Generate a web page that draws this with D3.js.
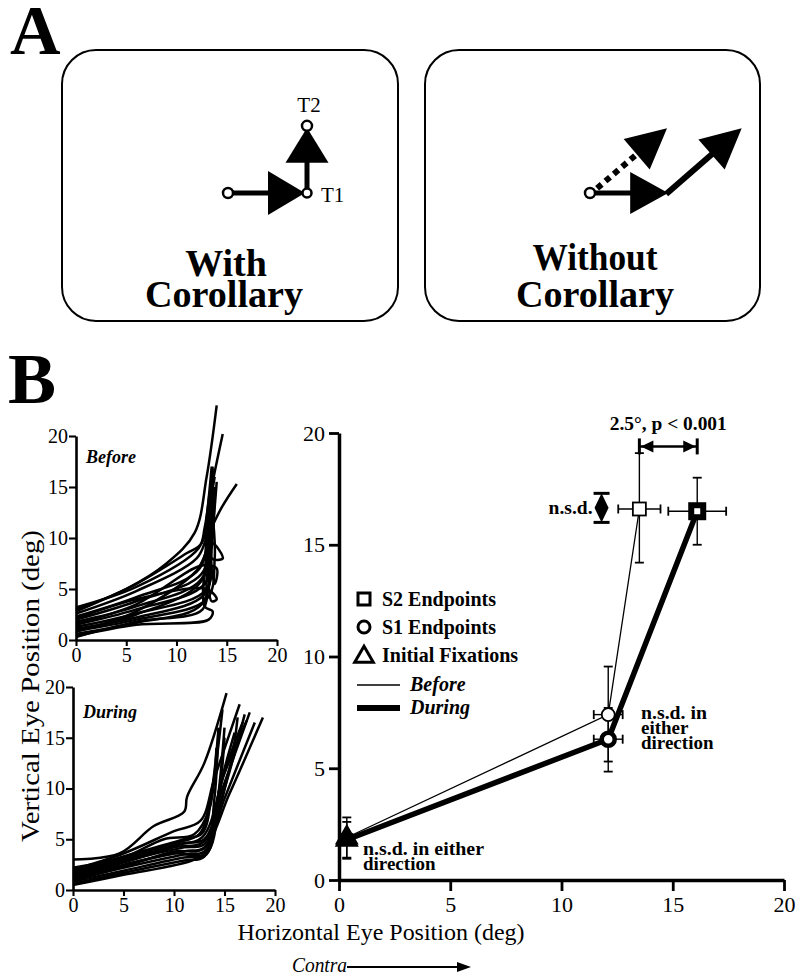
<!DOCTYPE html>
<html><head><meta charset="utf-8">
<script src="https://cdn.jsdelivr.net/npm/d3@7"></script>
<style>body{margin:0;background:#fff}svg{display:block}</style>
</head><body>
<svg id="c" width="798" height="976"></svg>
<script>
// ---------------- DATA ----------------
const ticks = [0, 5, 10, 15, 20];
const pointNames = ["Initial Fixations", "S1 Endpoints", "S2 Endpoints"];
// Before
const beforeX = [0.35, 12.1, 13.5];
const beforeY = [1.9, 7.4, 16.6];
const beforeXErr = [0.25, 0.65, 0.95];
const beforeYLo = [0.95, 5.3, 14.2];
const beforeYHi = [2.8, 9.55, 19.1];
// During
const duringX = [0.35, 12.1, 16.1];
const duringY = [1.8, 6.3, 16.5];
const duringXErr = [0.2, 0.65, 1.3];
const duringYLo = [1.0, 4.85, 15.0];
const duringYHi = [2.6, 7.7, 18.0];
// annotations (data units)
const nsdX = 11.8, nsdTop = 17.3, nsdBottom = 16.0;
const diffY = 19.4;
// individual traces (Before)
const beforeTraces = [
 [[0,3.0],[5,5],[9,7.5],[11.8,10.5],[13,16],[14,23]],
 [[0,2.8],[6,5.5],[11,8.5],[12.5,9.5],[13.5,15],[14.6,20.2]],
 [[0,2.6],[6,4.8],[12,8],[13,10],[14.5,13],[16,15.3]],
 [[0,2.3],[6,4.2],[12.3,7],[13,12],[13.5,17]],
 [[0,2.0],[6,3.8],[12.5,6.5],[13.3,11],[13.6,16.8]],
 [[0,1.8],[6,3.3],[12.5,6],[13,11],[13.8,16]],
 [[0,1.5],[6,3],[12.8,5.5],[13.5,10],[14,15.5]],
 [[0,1.3],[6,2.6],[13,5],[13.2,10],[13.3,14.5]],
 [[0,1.1],[6,2.2],[12.8,4.5],[13.5,9],[13.8,14]],
 [[0,0.9],[6,2],[13,4],[13.8,8],[13.5,13]],
 [[0,0.6],[6,1.7],[12.5,3.5],[13.4,9],[13.2,12]],
 [[0,0.4],[6,1.5],[13.2,2.0],[13.6,2.8],[12.8,3.3],[13.2,10],[13.6,13]],
 [[0,1.6],[6,3.5],[12.5,7.3],[14,7],[13.8,5.5],[13.3,9],[13.5,14]],
 [[0,2.1],[6,4],[13,5],[14,4],[13.5,3.8],[13.2,8],[13.8,15]],
 [[0,0.8],[6,2.8],[12,6.8],[13.5,9.5],[14.6,8],[13.5,8],[13.8,12]],
 [[0,1.0],[6,2.5],[12.5,5.8],[13.2,11.5],[13.6,17]],
 [[0,3.2],[6,5.2],[12.2,9],[12.8,11],[13.3,14.5]],
 [[0,0.3],[6,1.8],[12.6,3],[13,6],[13.4,12]]
];
// individual traces (During)
const duringTraces = [
 [[0,3.0],[4.6,3.6],[8,6.3],[11,7.7],[11.3,9.2],[13,12.5],[15.2,19.4]],
 [[0,2.0],[5,3.6],[10,5.8],[12.6,6.8],[14,11],[16.5,18.3]],
 [[0,1.8],[5,3.3],[11,5],[12.8,5.6],[13.8,10],[14.8,17.8]],
 [[0,1.6],[5,3],[11,4.6],[13,5],[14.8,10],[17.5,17.5]],
 [[0,1.4],[5,2.8],[11,4.2],[13,4.5],[15,10],[17,17.3]],
 [[0,1.2],[5,2.5],[11,3.8],[13,4.2],[15.5,9.5],[18.8,17]],
 [[0,1.0],[5,2.2],[11,3.5],[13,3.8],[15,9],[18,16.5]],
 [[0,0.8],[5,1.9],[11,3.2],[13.2,3.5],[14.2,8],[15,16]],
 [[0,0.6],[5,1.7],[11,2.9],[13,3.3],[14,9],[14.4,16]],
 [[0,0.5],[5,1.5],[12,3],[13.3,4],[14.5,10],[16,15.5]],
 [[0,1.7],[5,3.2],[10,4.6],[12.5,5.5],[13.6,9],[14.4,15.8]],
 [[0,1.3],[5,2.7],[10,4.2],[13,4.8],[15.5,12],[16.3,17]],
 [[0,0.9],[5,2.3],[10,3.8],[13,4.1],[14.5,10],[15,15]],
 [[0,1.5],[5,2.9],[10,4.4],[12.8,5.2],[15,11.5],[17.2,16.7]],
 [[0,2.2],[5,3.2],[9,5],[12,5.5],[13.5,8],[14.2,14]],
 [[0,1.1],[5,2.4],[10,3.6],[13.2,3.6],[14.8,11],[16.8,16.5]]
];
// Panel A schematic (diagram units)
const withPoints = [[0,0],[10,0],[10,8.5]];          // fixation, T1, T2
const withoutSaccade = [[0,0],[9.9,0],[19.2,8.2]];
const withoutExpected = [[0.9,0.6],[9.75,8.2]];

// ---------------- DRAWING ----------------
const svg = d3.select("#c");
const SERIF = "'Liberation Serif','Times New Roman',serif";
svg.append("rect").attr("width",798).attr("height",976).attr("fill","#fff");

function txt(x,y,s,size,opts={}){
  const t = svg.append("text").attr("x",x).attr("y",y).text(s)
    .attr("font-family",SERIF).attr("font-size",size)
    .attr("font-weight",opts.bold?"bold":"normal")
    .attr("font-style",opts.italic?"italic":"normal")
    .attr("text-anchor",opts.anchor||"start").attr("fill","#000");
  if(opts.len) t.attr("textLength",opts.len).attr("lengthAdjust","spacingAndGlyphs");
  if(opts.rotate) t.attr("transform",`rotate(${opts.rotate},${x},${y})`);
  return t;
}
function arrow(g,x1,y1,x2,y2,len,hw,sw,dash){
  const dx=x2-x1, dy=y2-y1, L=Math.hypot(dx,dy), ux=dx/L, uy=dy/L;
  const bx=x2-ux*len, by=y2-uy*len;
  const ln = g.append("line").attr("x1",x1).attr("y1",y1).attr("x2",bx+ux*2).attr("y2",by+uy*2)
    .attr("stroke","#000").attr("stroke-width",sw);
  if(dash) ln.attr("stroke-dasharray",dash);
  g.append("path").attr("d",`M${x2},${y2}L${bx-uy*hw},${by+ux*hw}L${bx+uy*hw},${by-ux*hw}Z`).attr("fill","#000");
}

// ----- Panel A -----
txt(10,54,"A",70,{bold:true});
const gA = svg.append("g");
gA.append("rect").attr("x",62).attr("y",50).attr("width",336).attr("height",271).attr("rx",34)
  .attr("fill","none").attr("stroke","#000").attr("stroke-width",2);
gA.append("rect").attr("x",425).attr("y",50).attr("width",335).attr("height",271).attr("rx",34)
  .attr("fill","none").attr("stroke","#000").attr("stroke-width",2);

const unit = 7.9;
const axL = d3.scaleLinear().domain([0,1]).range([228,228+unit]);
const ayA = d3.scaleLinear().domain([0,1]).range([193,193-unit]);
const axR = d3.scaleLinear().domain([0,1]).range([590,590+unit]);

// With corollary
const P = withPoints.map(p=>[axL(p[0]),ayA(p[1])]);
arrow(gA,P[0][0],P[0][1],P[1][0]-2,P[1][1],37,22,5);
arrow(gA,P[1][0],P[1][1],P[2][0],P[2][1]+2,35,21.5,5);
[[P[0],5],[P[1],4.5],[P[2],5]].forEach(([p,r])=>{
  gA.append("circle").attr("cx",p[0]).attr("cy",p[1]).attr("r",r).attr("fill","#fff").attr("stroke","#000").attr("stroke-width",2.5);
});
txt(P[2][0]+2,P[2][1]-14,"T2",21,{anchor:"middle"});
txt(P[1][0]+14,P[1][1]+9,"T1",21);
txt(226,276,"With",38,{bold:true,anchor:"middle"});
txt(224,307,"Corollary",38,{bold:true,anchor:"middle",len:158});

// Without corollary
const Q = withoutSaccade.map(p=>[axR(p[0]),ayA(p[1])]);
const E = withoutExpected.map(p=>[axR(p[0]),ayA(p[1])]);
arrow(gA,E[0][0],E[0][1],E[1][0],E[1][1],40,20,6,"6,5");
arrow(gA,Q[0][0],Q[0][1],Q[1][0],Q[1][1],38,21,5);
arrow(gA,Q[1][0]-2,Q[1][1]+1,Q[2][0],Q[2][1],40,20,6);
gA.append("circle").attr("cx",Q[0][0]).attr("cy",Q[0][1]).attr("r",5).attr("fill","#fff").attr("stroke","#000").attr("stroke-width",2.5);
txt(595,270,"Without",38,{bold:true,anchor:"middle",len:125});
txt(595,307,"Corollary",38,{bold:true,anchor:"middle",len:158});

// ----- Panel B -----
txt(8,403,"B",72,{bold:true});

function styleAxis(g,sw,fs){
  g.select(".domain").attr("stroke-width",sw).attr("stroke","#000");
  g.selectAll(".tick line").attr("stroke-width",sw*0.8).attr("stroke","#000");
  g.selectAll(".tick text").attr("font-family",SERIF).attr("font-size",fs).attr("fill","#000");
}

// small panels
function smallPanel(traces,xr,yr,label,ly){
  const x = d3.scaleLinear().domain([0,20]).range(xr);
  const y = d3.scaleLinear().domain([0,20]).range(yr);
  const g = svg.append("g");
  const line = d3.line().x(d=>x(d[0])).y(d=>y(d[1])).curve(d3.curveCatmullRom.alpha(0.5));
  g.selectAll("path.tr").data(traces).join("path").attr("class","tr").attr("d",line)
    .attr("fill","none").attr("stroke","#000").attr("stroke-width",2.5).attr("stroke-linejoin","round");
  const ya = g.append("g").attr("transform",`translate(${xr[0]},0)`)
    .call(d3.axisLeft(y).tickValues(ticks).tickSize(7).tickSizeOuter(0).tickPadding(1));
  styleAxis(ya,2.6,20);
  const xa = g.append("g").attr("transform",`translate(0,${yr[0]})`)
    .call(d3.axisBottom(x).tickValues(ticks).tickSize(6).tickSizeOuter(0).tickPadding(2));
  styleAxis(xa,2.6,20);
  txt(xr[0]+10,ly,label,18,{bold:true,italic:true});
}
smallPanel(beforeTraces,[76,277],[640,436],"Before",463);
smallPanel(duringTraces,[73,275],[890,687],"During",718);

txt(39,686,"Vertical Eye Position (deg)",25,{anchor:"middle",rotate:-90,len:312});

// main panel
const x = d3.scaleLinear().domain([0,20]).range([339,784]);
const y = d3.scaleLinear().domain([0,20]).range([880,433]);
const gM = svg.append("g");
const ya = gM.append("g").attr("transform",`translate(339,0)`)
  .call(d3.axisLeft(y).tickValues(ticks).tickSize(10).tickSizeOuter(0).tickPadding(4));
styleAxis(ya,3.5,22);
const xa = gM.append("g").attr("transform",`translate(0,880)`)
  .call(d3.axisBottom(x).tickValues(ticks).tickSize(11).tickSizeOuter(0).tickPadding(5));
styleAxis(xa,3.5,22);

txt(381,940,"Horizontal Eye Position (deg)",24,{anchor:"middle",len:287});
txt(292,972,"Contra",20,{italic:true,len:55});
arrow(svg,347,967,471,967,14,5,2);

const beforeData = beforeX.map((v,i)=>({x:v,y:beforeY[i],xe:beforeXErr[i],lo:beforeYLo[i],hi:beforeYHi[i]}));
const duringData = duringX.map((v,i)=>({x:v,y:duringY[i],xe:duringXErr[i],lo:duringYLo[i],hi:duringYHi[i]}));
const mline = d3.line().x(d=>x(d.x)).y(d=>y(d.y));
gM.append("path").attr("d",mline(beforeData)).attr("fill","none").attr("stroke","#000").attr("stroke-width",1.3);
gM.append("path").attr("d",mline(duringData)).attr("fill","none").attr("stroke","#000").attr("stroke-width",5.5).attr("stroke-linejoin","round");

function errBars(data,sw){
  data.forEach(d=>{
    const cx=x(d.x), cy=y(d.y), c=4.5;
    gM.append("line").attr("x1",cx).attr("x2",cx).attr("y1",y(d.lo)).attr("y2",y(d.hi)).attr("stroke","#000").attr("stroke-width",sw);
    [d.lo,d.hi].forEach(v=>gM.append("line").attr("x1",cx-c).attr("x2",cx+c).attr("y1",y(v)).attr("y2",y(v)).attr("stroke","#000").attr("stroke-width",1.8));
    gM.append("line").attr("x1",x(d.x-d.xe)).attr("x2",x(d.x+d.xe)).attr("y1",cy).attr("y2",cy).attr("stroke","#000").attr("stroke-width",sw);
    [d.x-d.xe,d.x+d.xe].forEach(v=>gM.append("line").attr("x1",x(v)).attr("x2",x(v)).attr("y1",cy-c).attr("y2",cy+c).attr("stroke","#000").attr("stroke-width",1.8));
  });
}
errBars(beforeData,1.4);
errBars(duringData,1.4);

// markers
function triangle(g,cx,cy,size,fill,sw){
  g.append("path").attr("d",d3.symbol(d3.symbolTriangle,size)()).attr("transform",`translate(${cx},${cy})`)
    .attr("fill",fill).attr("stroke","#000").attr("stroke-width",sw).attr("stroke-linejoin","miter");
}
triangle(gM,x(beforeData[0].x),y(beforeData[0].y),180,"#fff",2);
gM.append("circle").attr("cx",x(beforeData[1].x)).attr("cy",y(beforeData[1].y)).attr("r",6.5).attr("fill","#fff").attr("stroke","#000").attr("stroke-width",1.8);
gM.append("rect").attr("x",x(beforeData[2].x)-6.5).attr("y",y(beforeData[2].y)-6.5).attr("width",13).attr("height",13).attr("fill","#fff").attr("stroke","#000").attr("stroke-width",1.8);
triangle(gM,x(duringData[0].x),y(duringData[0].y),200,"#000",1.5);
gM.append("circle").attr("cx",x(duringData[1].x)).attr("cy",y(duringData[1].y)).attr("r",6.5).attr("fill","#fff").attr("stroke","#000").attr("stroke-width",4.5);
gM.append("rect").attr("x",x(duringData[2].x)-6).attr("y",y(duringData[2].y)-6).attr("width",12).attr("height",12).attr("fill","#fff").attr("stroke","#000").attr("stroke-width",6);

// n.s.d. double arrow
{
  const cx=x(nsdX), t=y(nsdTop), b=y(nsdBottom), m=(t+b)/2, hw=7;
  [t,b].forEach(v=>gM.append("line").attr("x1",cx-8).attr("x2",cx+8).attr("y1",v).attr("y2",v).attr("stroke","#000").attr("stroke-width",3));
  gM.append("path").attr("d",`M${cx},${t}L${cx-hw},${m}L${cx},${b}L${cx+hw},${m}Z`).attr("fill","#000");
  txt(cx-9,m+6,"n.s.d.",19,{bold:true,anchor:"end",len:44});
}
// 2.5 deg difference arrow
{
  const x1=x(beforeX[2]), x2=x(duringX[2]), yy=y(diffY), h=8;
  [x1,x2].forEach(v=>gM.append("line").attr("x1",v).attr("x2",v).attr("y1",yy-h).attr("y2",yy+h).attr("stroke","#000").attr("stroke-width",3));
  gM.append("line").attr("x1",x1).attr("x2",x2).attr("y1",yy).attr("y2",yy).attr("stroke","#000").attr("stroke-width",2.5);
  gM.append("path").attr("d",`M${x1+1.5},${yy}L${x1+14},${yy-6}L${x1+14},${yy+6}Z`).attr("fill","#000");
  gM.append("path").attr("d",`M${x2-1.5},${yy}L${x2-14},${yy-6}L${x2-14},${yy+6}Z`).attr("fill","#000");
  txt((x1+x2)/2,430,"2.5°, p < 0.001",19,{bold:true,anchor:"middle",len:117});
}
// n.s.d. in either direction labels
txt(641,719,"n.s.d. in",19,{bold:true,len:66});
txt(641,734,"either",19,{bold:true});
txt(641,749,"direction",19,{bold:true});
txt(363,855,"n.s.d. in either",19,{bold:true,len:121});
txt(363,870,"direction",19,{bold:true});

// legend
{
  const lx=364;
  const g=gM.append("g");
  g.append("rect").attr("x",lx-6).attr("y",599-6).attr("width",12).attr("height",12).attr("fill","#fff").attr("stroke","#000").attr("stroke-width",3);
  g.append("circle").attr("cx",lx).attr("cy",627).attr("r",6).attr("fill","#fff").attr("stroke","#000").attr("stroke-width",3);
  triangle(g,lx,657,150,"#fff",3);
  txt(382,606,"S2 Endpoints",20,{bold:true});
  txt(382,634,"S1 Endpoints",20,{bold:true});
  txt(382,662,"Initial Fixations",20,{bold:true});
  g.append("line").attr("x1",357).attr("x2",400).attr("y1",685).attr("y2",685).attr("stroke","#000").attr("stroke-width",1.3);
  g.append("line").attr("x1",357).attr("x2",400).attr("y1",708).attr("y2",708).attr("stroke","#000").attr("stroke-width",6);
  txt(410,691,"Before",20,{bold:true,italic:true});
  txt(410,714,"During",20,{bold:true,italic:true});
}
</script>
</body></html>
